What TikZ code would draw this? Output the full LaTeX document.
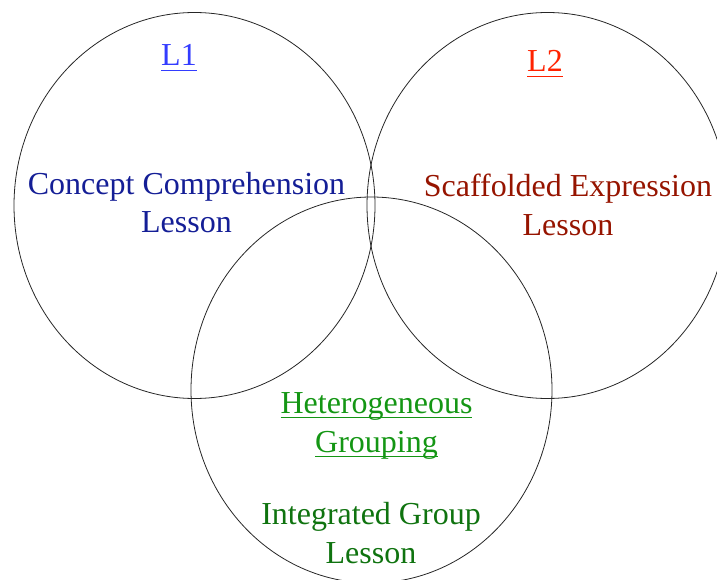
\documentclass[tikz,border=0pt]{standalone}
\usepackage{fontspec}
\setmainfont{Liberation Serif}
\newcommand{\ulink}[1]{\setbox0\hbox{#1}\rlap{\rule[-5.4pt]{\wd0}{1.4pt}}\box0}
\definecolor{linkblue}{RGB}{51,60,255}
\definecolor{lessonblue}{RGB}{20,30,150}
\definecolor{linkred}{RGB}{255,34,0}
\definecolor{lessonred}{RGB}{150,20,0}
\definecolor{linkgreen}{RGB}{20,150,20}
\definecolor{lessongreen}{RGB}{15,115,15}

\begin{document}
\begin{tikzpicture}[x=1pt,y=-1pt,
    every node/.style={inner sep=0pt,align=center,anchor=base,font=\fontsize{32}{39}\selectfont},
    ring/.style={draw=black!85,line width=0.8pt}]
    \clip (0,0) rectangle (717,580);
    \draw[ring] (194.5,205.5) ellipse [x radius=180.5pt,y radius=193pt];
    \draw[ring] (547.5,205.5) ellipse [x radius=180.5pt,y radius=193pt];
    \draw[ring] (371.5,390) ellipse [x radius=180.5pt,y radius=193pt];
    \node[text=linkblue] (L1) at (179,66) {\ulink{L1}};
    \node[text=lessonblue] (CCL) at (186.5,233) {Concept Comprehension\\Lesson};
    \node[text=linkred] (L2) at (545,72) {\ulink{L2}};
    \node[text=lessonred] (SEL) at (568,235) {Scaffolded Expression\\Lesson};
    \node[text=linkgreen] (HG) at (376.5,452) {\ulink{Heterogeneous}\\\ulink{Grouping}};
    \node[text=lessongreen] (IGL) at (371,563) {Integrated Group\\Lesson};
\end{tikzpicture}
\end{document}
